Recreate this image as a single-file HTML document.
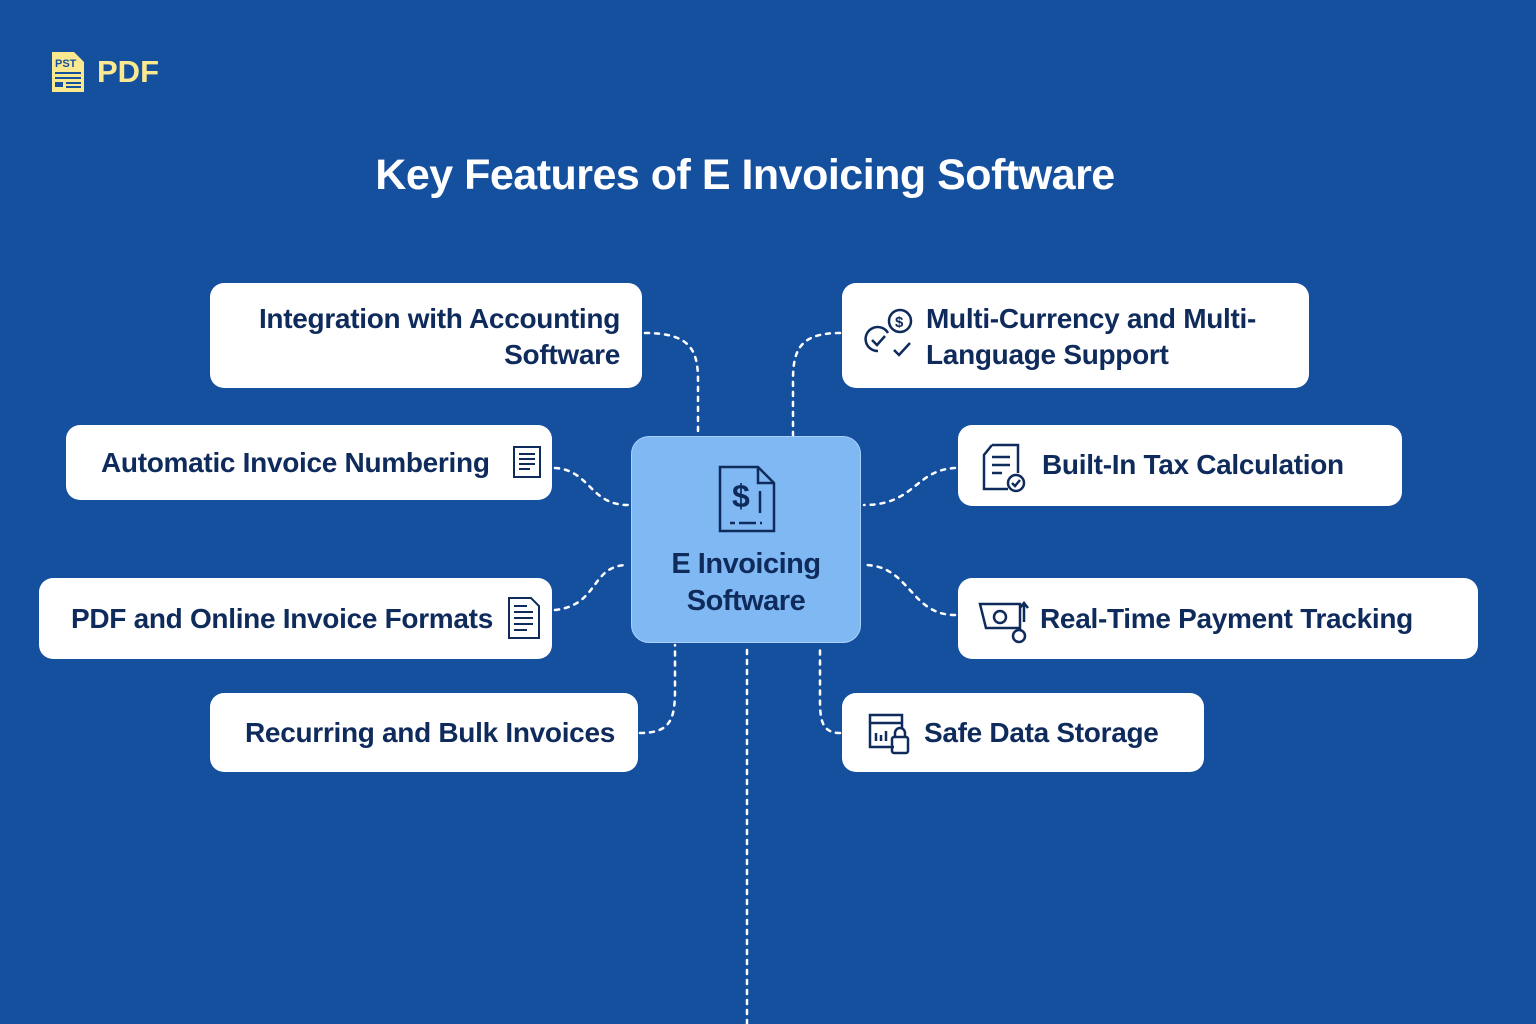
<!DOCTYPE html>
<html><head><meta charset="utf-8"><style>
html,body{margin:0;padding:0}
body{width:1536px;height:1024px;background:#15509f;position:relative;overflow:hidden;font-family:"Liberation Sans",sans-serif}
.box{position:absolute;background:#fff;border-radius:14px;color:#0f2b5c;font-weight:bold;font-size:28px;letter-spacing:-0.3px;box-sizing:border-box}
.t{position:absolute;line-height:36px;white-space:nowrap}
svg.ic{position:absolute}
</style></head><body>
<svg width="1536" height="1024" style="position:absolute;left:0;top:0">
<g fill="none" stroke="#fff" stroke-width="2.5" stroke-dasharray="4 6" stroke-linecap="round">
<path d="M645 333 C690 333 698 350 698 380 L698 435"/>
<path d="M840 333 C800 333 793 350 793 380 L793 435"/>
<path d="M555 468 C590 470 590 505 628 505"/>
<path d="M955 468 C915 470 915 505 864 505"/>
<path d="M555 610 C600 605 590 565 628 565"/>
<path d="M955 615 C910 615 910 565 864 565"/>
<path d="M640 733 C670 733 675 720 675 690 L675 645"/>
<path d="M840 733 C822 733 820 720 820 700 L820 645"/>
<path d="M747 650 L747 1024"/>
</g>
</svg>
<svg class="ic" style="left:50px;top:50px" width="36" height="44" viewBox="0 0 36 44">
<path d="M2 2 H24 L34 12 V42 H2 Z" fill="#fbe98f"/>
<text x="5" y="17" font-size="11" font-weight="bold" fill="#15509f" font-family="Liberation Sans">PST</text>
<rect x="5" y="22" width="26" height="2" fill="#15509f"/><rect x="5" y="27" width="26" height="2" fill="#15509f"/>
<rect x="5" y="32" width="8" height="5" fill="#15509f"/><rect x="16" y="32" width="15" height="2" fill="#15509f"/><rect x="16" y="36" width="15" height="2" fill="#15509f"/>
</svg>
<div style="position:absolute;left:97px;top:54px;font-size:31px;font-weight:bold;color:#fbe98f">PDF</div>
<div style="position:absolute;left:0;width:1490px;top:151px;text-align:center;color:#fff;font-size:43px;font-weight:bold;letter-spacing:-0.5px">Key Features of E Invoicing Software</div>

<div class="box" style="left:210px;top:283px;width:432px;height:105px"><div class="t" style="right:22px;top:18px;text-align:right">Integration with Accounting<br>Software</div></div>
<div class="box" style="left:842px;top:283px;width:467px;height:105px"><div class="t" style="left:84px;top:18px">Multi-Currency and Multi-<br>Language Support</div>
<svg class="ic" style="left:20px;top:22px" width="54" height="56" viewBox="0 0 54 56" fill="none" stroke="#0f2b5c" stroke-width="2.5"><circle cx="38" cy="16" r="11"/><text x="33" y="22" font-size="15" font-weight="bold" fill="#0f2b5c" stroke="none" font-family="Liberation Sans">$</text><path d="M26 28 A12 12 0 1 0 16 46"/><path d="M10 35 L15 40 L23 31"/><path d="M32 45 L37 50 L48 38"/></svg></div>
<div class="box" style="left:66px;top:425px;width:486px;height:75px"><div class="t" style="left:35px;top:20px">Automatic Invoice Numbering</div>
<svg class="ic" style="left:446px;top:20px" width="30" height="36" viewBox="0 0 30 36" fill="none" stroke="#0f2b5c" stroke-width="2"><path d="M2 2 H28 V32 H2 Z"/><path d="M7 9 H23 M7 14 H23 M7 19 H23 M7 24 H18"/></svg></div>
<div class="box" style="left:958px;top:425px;width:444px;height:81px"><div class="t" style="left:84px;top:22px">Built-In Tax Calculation</div>
<svg class="ic" style="left:24px;top:18px" width="46" height="50" viewBox="0 0 46 50" fill="none" stroke="#0f2b5c" stroke-width="2.5"><path d="M10 2 H36 V30 M26 46 H2 V12 L10 2"/><path d="M10 14 H28 M10 22 H28 M10 30 H20"/><circle cx="34" cy="40" r="8"/><path d="M30 40 L33 43 L38 37"/></svg></div>
<div class="box" style="left:39px;top:578px;width:513px;height:81px"><div class="t" style="left:32px;top:23px">PDF and Online Invoice Formats</div>
<svg class="ic" style="left:468px;top:18px" width="34" height="44" viewBox="0 0 34 44" fill="none" stroke="#0f2b5c" stroke-width="2"><path d="M2 2 H24 L32 10 V42 H2 Z"/><path d="M7 10 H20 M7 16 H26 M7 22 H26 M7 28 H26 M7 34 H20"/></svg></div>
<div class="box" style="left:958px;top:578px;width:520px;height:81px"><div class="t" style="left:82px;top:23px">Real-Time Payment Tracking</div>
<svg class="ic" style="left:18px;top:22px" width="54" height="44" viewBox="0 0 54 44" fill="none" stroke="#0f2b5c" stroke-width="2.5"><path d="M4 4 H44 V28 H10 Z"/><circle cx="24" cy="17" r="6"/><path d="M48 22 V4 M44 8 L48 3 L52 8"/><circle cx="43" cy="36" r="6"/></svg></div>
<div class="box" style="left:210px;top:693px;width:428px;height:79px"><div class="t" style="left:35px;top:22px">Recurring and Bulk Invoices</div></div>
<div class="box" style="left:842px;top:693px;width:362px;height:79px"><div class="t" style="left:82px;top:22px">Safe Data Storage</div>
<svg class="ic" style="left:24px;top:18px" width="46" height="46" viewBox="0 0 46 46" fill="none" stroke="#0f2b5c" stroke-width="2.5"><path d="M28 36 H4 V4 H36 V18 M4 12 H36"/><path d="M10 22 V30 M15 24 V30 M20 20 V30"/><rect x="26" y="26" width="16" height="16" rx="2"/><path d="M29 26 V22 A5 5 0 0 1 39 22 V26"/></svg></div>

<div style="position:absolute;left:631px;top:436px;width:230px;height:207px;background:#80b8f4;border-radius:18px;border:1px solid #a8d0fa;box-sizing:border-box;color:#0f2b5c;text-align:center">
<svg style="position:absolute;left:86px;top:28px" width="58" height="68" viewBox="0 0 58 68" fill="none" stroke="#0f2b5c" stroke-width="2.5"><path d="M2 2 H40 L56 18 V66 H2 Z M40 2 V18 H56"/><text x="14" y="42" font-size="32" font-weight="bold" fill="#0f2b5c" stroke="none" font-family="Liberation Sans">$</text><path d="M42 26 V48"/><path d="M12 58 H17 M21 58 H38 M42 58 H44"/></svg>
<div style="position:absolute;left:0;right:0;top:109px;font-size:29px;font-weight:bold;line-height:37px;letter-spacing:-0.5px">E Invoicing<br>Software</div>
</div>
</body></html>
